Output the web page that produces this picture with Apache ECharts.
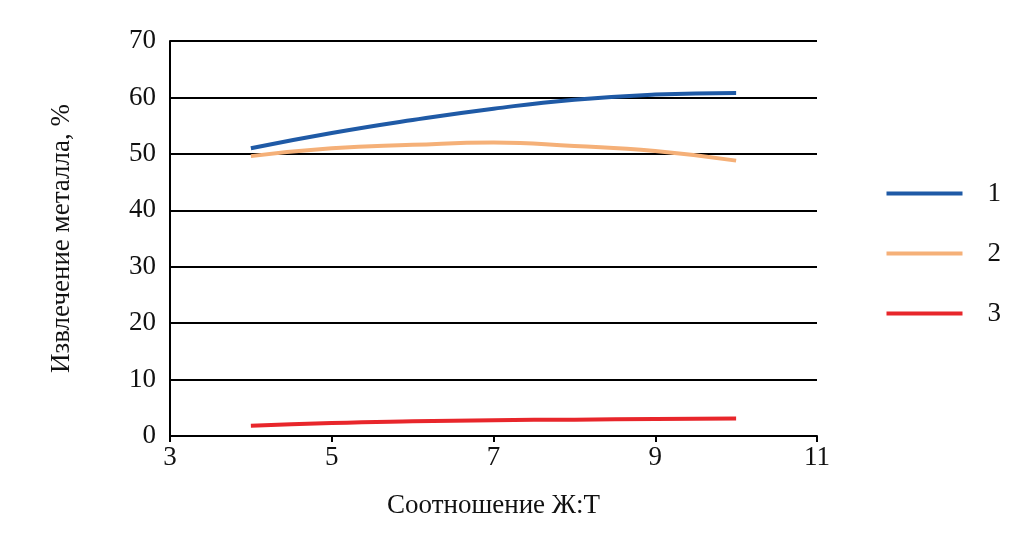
<!DOCTYPE html>
<html>
<head>
<meta charset="utf-8">
<script src="https://cdn.jsdelivr.net/npm/echarts@6/dist/echarts.min.js"></script>
<style>html,body{margin:0;padding:0;background:#fff}#chart{width:1036px;height:547px}</style>
</head>
<body>
<div id="chart"></div>
<script>
const ratios = [4, 5, 6, 7, 8, 9, 10];
const series1 = [51.0, 53.7, 56.0, 58.0, 59.6, 60.5, 60.8];
const series2 = [49.6, 51.0, 51.6, 52.0, 51.4, 50.5, 48.8];
const series3 = [1.8, 2.3, 2.6, 2.8, 2.9, 3.0, 3.1];
const names = ['1', '2', '3'];
const colors = ['#1f5aa6', '#f5b078', '#e8262b'];

function pairs(vals) {
    return ratios.map((x, i) => [x, vals[i]]);
}

var myChart = echarts.init(document.getElementById('chart'));
var font = 'Liberation Serif';

var option = {
    textStyle: { fontFamily: font },
    grid: { left: 170, right: 219, top: 41, bottom: 111 },
    legend: {
        orient: 'vertical',
        right: 30,
        top: 175,
        itemWidth: 76,
        itemHeight: 4,
        itemGap: 33,
        icon: 'rect',
        textStyle: { fontFamily: font, fontSize: 27, color: '#111', padding: [0, 0, 0, 20] },
        data: names
    },
    xAxis: {
        type: 'value',
        min: 3, max: 11, interval: 2,
        name: 'Соотношение Ж:Т',
        nameLocation: 'middle',
        nameGap: 56,
        nameTextStyle: { fontFamily: font, fontSize: 27, color: '#111' },
        axisLine: { lineStyle: { color: '#000', width: 2 } },
        axisTick: { show: true, length: 6, lineStyle: { color: '#000', width: 2 } },
        axisLabel: { fontFamily: font, fontSize: 27, color: '#111', margin: 8 },
        splitLine: { show: false }
    },
    yAxis: {
        type: 'value',
        min: 0, max: 70, interval: 10,
        name: 'Извлечение металла, %',
        nameLocation: 'middle',
        nameGap: 95,
        nameTextStyle: { fontFamily: font, fontSize: 27, color: '#111' },
        axisLine: { show: true, lineStyle: { color: '#000', width: 2 } },
        axisTick: { show: false },
        axisLabel: { fontFamily: font, fontSize: 27, color: '#111', margin: 14 },
        splitLine: { lineStyle: { color: '#000', width: 2 } }
    },
    series: [series1, series2, series3].map((vals, i) => ({
        name: names[i],
        type: 'line',
        smooth: true,
        symbol: 'none',
        data: pairs(vals),
        lineStyle: { color: colors[i], width: 4 },
        itemStyle: { color: colors[i] }
    }))
};
myChart.setOption(option);
</script>
</body>
</html>
